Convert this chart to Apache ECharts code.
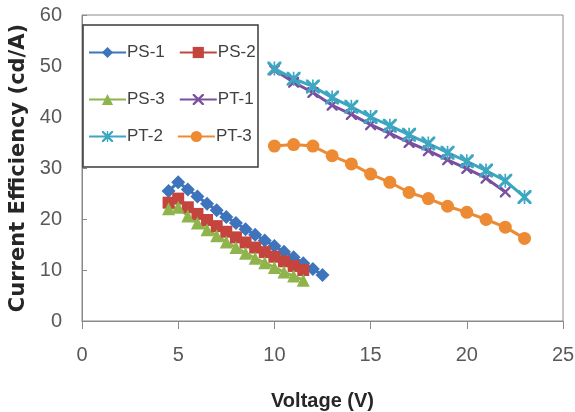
<!DOCTYPE html>
<html>
<head>
<meta charset="utf-8">
<script src="https://cdn.jsdelivr.net/npm/echarts@6/dist/echarts.min.js"></script>
<style>
  html, body { margin: 0; padding: 0; background: #fff; }
  #chart { width: 575px; height: 412px; }
</style>
</head>
<body>
<div id="chart"></div>
<script>
// voltages (V)
var ps1Volt = [4.5, 5, 5.5, 6, 6.5, 7, 7.5, 8, 8.5, 9, 9.5, 10, 10.5, 11, 11.5, 12, 12.5];
var ps23Volt = [4.5, 5, 5.5, 6, 6.5, 7, 7.5, 8, 8.5, 9, 9.5, 10, 10.5, 11, 11.5];
var pt1Volt = [10, 11, 12, 13, 14, 15, 16, 17, 18, 19, 20, 21, 22];
var pt23Volt = [10, 11, 12, 13, 14, 15, 16, 17, 18, 19, 20, 21, 22, 23];

// current efficiency (cd/A)
var ps1 = [25.5, 27.2, 25.8, 24.4, 23.0, 21.7, 20.4, 19.2, 18.0, 16.9, 15.8, 14.7, 13.6, 12.5, 11.3, 10.2, 9.0];
var ps2 = [23.2, 24.0, 22.3, 21.0, 19.8, 18.6, 17.5, 16.4, 15.4, 14.4, 13.5, 12.6, 11.7, 10.8, 10.0];
var ps3 = [22.0, 22.3, 20.6, 19.2, 17.9, 16.7, 15.5, 14.4, 13.3, 12.3, 11.4, 10.5, 9.6, 8.8, 8.0];
var pt1 = [49.2, 46.8, 44.8, 42.3, 40.5, 38.5, 36.8, 35.0, 33.4, 31.6, 29.9, 28.0, 25.3];
var pt2 = [49.5, 47.5, 46.0, 43.8, 42.0, 40.0, 38.3, 36.5, 34.8, 33.0, 31.3, 29.5, 27.5, 24.3];
var pt3 = [34.3, 34.6, 34.3, 32.4, 30.8, 28.8, 27.2, 25.2, 24.0, 22.5, 21.3, 19.9, 18.4, 16.2];

var seriesNames = ['PS-1', 'PS-2', 'PS-3', 'PT-1', 'PT-2', 'PT-3'];

var labelFont = "'Liberation Sans', sans-serif";

var xMark = 'path://M0,0 L3,0 L10,7 L17,0 L20,0 L20,3 L13,10 L20,17 L20,20 L17,20 L10,13 L3,20 L0,20 L0,17 L7,10 L0,3 Z';
var starMark = 'path://M0,0 L3,0 L10,7 L17,0 L20,0 L20,3 L13,10 L20,17 L20,20 L17,20 L10,13 L3,20 L0,20 L0,17 L7,10 L0,3 Z M8.8,0 L11.2,0 L11.2,20 L8.8,20 Z';

function pairs(xs, ys) {
  var out = [];
  for (var i = 0; i < ys.length; i++) out.push([xs[i], ys[i]]);
  return out;
}

function mkSeries(name, xs, ys, color, symbol, size) {
  return {
    name: name,
    type: 'line',
    data: pairs(xs, ys),
    symbol: symbol,
    symbolSize: size,
    showAllSymbol: true,
    itemStyle: { color: color },
    lineStyle: { color: color, width: 3 },
    z: 2
  };
}

var chart = echarts.init(document.getElementById('chart'));
chart.setOption({
  animation: false,
  backgroundColor: '#fff',
  grid: {
    left: 82, right: 12, top: 15, bottom: 91,
    outerBoundsMode: 'none', containLabel: false,
    show: true, borderColor: '#8a8a8a', borderWidth: 1
  },
  xAxis: {
    type: 'value', min: 0, max: 25, interval: 5,
    name: 'Voltage (V)', nameLocation: 'middle', nameGap: 70,
    nameTextStyle: { fontFamily: labelFont, fontWeight: 'bold', fontSize: 20, color: '#262626' },
    axisLine: { show: true, lineStyle: { color: '#8a8a8a', width: 1 } },
    axisTick: { show: true, inside: false, length: 8, lineStyle: { color: '#8a8a8a' } },
    axisLabel: { fontFamily: labelFont, fontSize: 20, color: '#595959', margin: 24 },
    splitLine: { show: false }
  },
  yAxis: {
    type: 'value', min: 0, max: 60, interval: 10,
    name: 'Current Efficiency (cd/A)', nameLocation: 'middle', nameGap: 52,
    nameTextStyle: { fontFamily: "'DejaVu Sans', sans-serif", fontWeight: 'bold', fontSize: 21, color: '#262626' },
    axisLine: { show: true, lineStyle: { color: '#8a8a8a', width: 1 } },
    axisTick: { show: true, inside: true, length: 5, lineStyle: { color: '#8a8a8a' } },
    axisLabel: { fontFamily: labelFont, fontSize: 20, color: '#595959', margin: 20 },
    splitLine: { show: false }
  },
  graphic: [{
    type: 'rect', z: 5,
    shape: { x: 83, y: 25, width: 175, height: 142 },
    style: { fill: '#fff', stroke: '#3a3a3a', lineWidth: 1.5 }
  }],
  legend: [
    { data: [seriesNames[0], seriesNames[1]], top: 39 },
    { data: [seriesNames[2], seriesNames[3]], top: 86 },
    { data: [seriesNames[4], seriesNames[5]], top: 123 }
  ].map(function (l) {
    return {
      data: l.data, top: l.top, left: 83, z: 6,
      orient: 'horizontal', itemWidth: 37, itemHeight: 14, itemGap: 14,
      textStyle: { fontFamily: labelFont, fontSize: 17, color: '#404040', padding: [0, 0, 0, -4] }
    };
  }),
  series: [
    mkSeries('PS-1', ps1Volt, ps1, '#3E74BC', 'diamond', 14),
    mkSeries('PS-2', ps23Volt, ps2, '#C4443E', 'rect', 12),
    mkSeries('PS-3', ps23Volt, ps3, '#8FB44B', 'triangle', 13),
    mkSeries('PT-1', pt1Volt, pt1, '#7A4FA0', xMark, 11),
    mkSeries('PT-2', pt23Volt, pt2, '#3DA7C1', starMark, 14),
    mkSeries('PT-3', pt23Volt, pt3, '#EC8B33', 'circle', 13)
  ]
});
</script>
</body>
</html>
